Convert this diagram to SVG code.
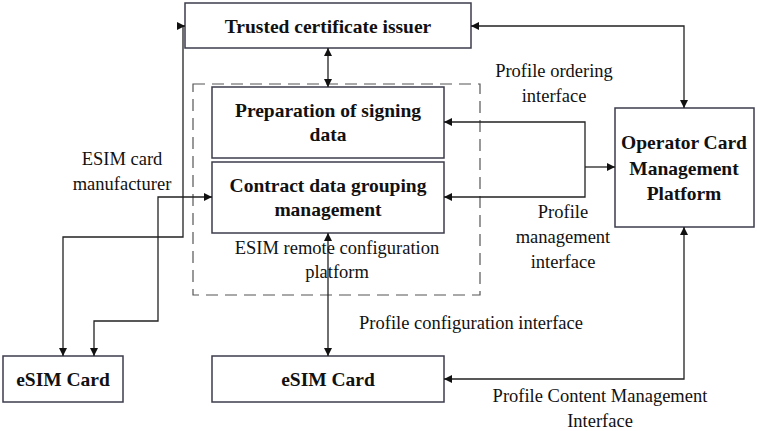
<svg xmlns="http://www.w3.org/2000/svg" width="757" height="431" viewBox="0 0 757 431">
<style>
.box{fill:#fff;stroke:#3c3c4c;stroke-width:1.5}
.dash{fill:none;stroke:#555;stroke-width:1.2;stroke-dasharray:12,7}
.ln{fill:none;stroke:#222;stroke-width:1.3}
.b{font-family:'Liberation Serif','DejaVu Serif',serif;font-weight:bold;font-size:19.5px;fill:#111;text-anchor:middle}
.t{font-family:'Liberation Serif','DejaVu Serif',serif;font-size:18.5px;fill:#111;text-anchor:middle}
</style>
<defs>
<marker id="ah" viewBox="0 0 10 10" refX="10" refY="5" markerWidth="8" markerHeight="8" markerUnits="userSpaceOnUse" orient="auto-start-reverse">
<path d="M0,0 L10,5 L0,10 z" fill="#111"/>
</marker>
</defs>
<rect x="193" y="84" width="287" height="211" class="dash"/>
<g id="trusted"><rect x="185" y="3" width="286" height="45" class="box"/><text x="328" y="33" class="b">Trusted certificate issuer</text></g>
<g id="prep"><rect x="212" y="87" width="232" height="71" class="box"/><text x="328" y="117" class="b">Preparation of signing</text><text x="328" y="141" class="b">data</text></g>
<g id="contract"><rect x="212" y="162" width="232" height="71" class="box"/><text x="328" y="192" class="b">Contract data grouping</text><text x="328" y="216" class="b">management</text></g>
<g id="platform-label"><text x="337" y="254" class="t">ESIM remote configuration</text><text x="337" y="278" class="t">platform</text></g>
<g id="operator"><rect x="615" y="108" width="139" height="119" class="box"/><text x="684" y="149" class="b">Operator Card</text><text x="684" y="175" class="b">Management</text><text x="684" y="200" class="b">Platform</text></g>
<g id="esim-left"><rect x="3" y="356" width="120" height="46" class="box"/><text x="63" y="386" class="b">eSIM Card</text></g>
<g id="esim-center"><rect x="212" y="356" width="232" height="46" class="box"/><text x="328" y="386" class="b">eSIM Card</text></g>
<g id="connectors">
<path d="M328,48 V87" class="ln" marker-start="url(#ah)" marker-end="url(#ah)"/>
<path d="M328,233 V356" class="ln" marker-start="url(#ah)" marker-end="url(#ah)"/>
<path d="M471,26 H684 V108" class="ln" marker-start="url(#ah)" marker-end="url(#ah)"/>
<path d="M185,26 H183 V237 H63 V356" class="ln" marker-start="url(#ah)" marker-end="url(#ah)"/>
<path d="M212,197 H158 V321 H94 V356" class="ln" marker-start="url(#ah)" marker-end="url(#ah)"/>
<path d="M444,122 H585 V197 H444" class="ln" marker-start="url(#ah)" marker-end="url(#ah)"/>
<path d="M585,167 H615" class="ln" marker-end="url(#ah)"/>
<path d="M684,227 V379 H444" class="ln" marker-start="url(#ah)" marker-end="url(#ah)"/>
</g>
<g id="labels">
<text x="122" y="165" class="t">ESIM card</text>
<text x="122" y="190" class="t">manufacturer</text>
<text x="554" y="77" class="t">Profile ordering</text>
<text x="554" y="102" class="t">interface</text>
<text x="563" y="218" class="t">Profile</text>
<text x="563" y="243" class="t">management</text>
<text x="563" y="268" class="t">interface</text>
<text x="471" y="329" class="t">Profile configuration interface</text>
<text x="600" y="402" class="t">Profile Content Management</text>
<text x="600" y="427" class="t">Interface</text>
</g>
</svg>
